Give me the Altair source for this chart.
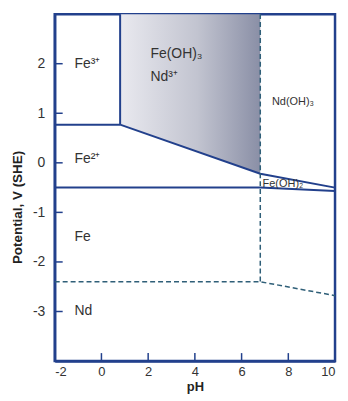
import altair as alt
import pandas as pd

# ---- data ----
# solid boundary lines (segment id, pH, potential)
solid_seg = ["a", "a", "b", "b", "c", "c", "c", "d", "d", "d"]
solid_ph = [-2, 0.8, 0.8, 0.8, 0.8, 6.8, 10, -2, 6.8, 10]
solid_v = [0.77, 0.77, 0.77, 3.0, 0.77, -0.22, -0.5, -0.5, -0.5, -0.57]

# dashed (Nd) boundary lines
dash_seg = ["e", "e", "f", "f", "f"]
dash_ph = [6.8, 6.8, -2, 6.8, 10]
dash_v = [3.0, -2.4, -2.4, -2.4, -2.68]

# shaded Fe(OH)3 + Nd3+ region
shade_ph = [0.8, 6.8]
shade_low = [0.77, -0.22]
shade_high = [3.0, 3.0]

# region labels
lab_text = ["Fe³⁺", "Fe(OH)₃", "Nd³⁺", "Fe²⁺", "Fe", "Nd"]
lab_ph = [-1.15, 2.1, 2.1, -1.15, -1.15, -1.15]
lab_v = [2.0, 2.2, 1.74, 0.08, -1.5, -3.0]
small_text = ["Nd(OH)₃", "Fe(OH)₂"]
small_ph = [7.3, 6.9]
small_v = [1.22, -0.42]

x_ticks = [-2, 0, 2, 4, 6, 8, 10]
y_ticks = [-3, -2, -1, 0, 1, 2]

NAVY = "#22408c"
W, H = 282, 349

xs = alt.Scale(domain=[-2, 10], nice=False, zero=False)
ys = alt.Scale(domain=[-4, 3], nice=False, zero=False)

solid = pd.DataFrame({"seg": solid_seg, "ph": solid_ph, "v": solid_v})
dash = pd.DataFrame({"seg": dash_seg, "ph": dash_ph, "v": dash_v})
shade = pd.DataFrame({"ph": shade_ph, "lo": shade_low, "hi": shade_high})
labs = pd.DataFrame({"t": lab_text, "ph": lab_ph, "v": lab_v})
smalls = pd.DataFrame({"t": small_text, "ph": small_ph, "v": small_v})
xt = pd.DataFrame({"x": x_ticks[1:-1]})
yt = pd.DataFrame({"y": y_ticks})

area = alt.Chart(shade).mark_area(
    color=alt.Gradient(
        gradient="linear", x1=0, x2=1, y1=0, y2=0,
        stops=[alt.GradientStop(color="#e9e9ef", offset=0),
               alt.GradientStop(color="#c2c4d0", offset=0.55),
               alt.GradientStop(color="#8a8fa6", offset=1)],
    )
).encode(
    x=alt.X("ph:Q", scale=xs,
            axis=alt.Axis(title="pH", values=x_ticks, ticks=False, grid=False,
                          labelExpr="'' + datum.value",
                          domainColor=NAVY, domainWidth=2.5, labelFontSize=13,
                          labelColor="#333", labelPadding=5, labelFont="Liberation Sans",
                          titleFont="Liberation Sans", titleFontSize=13, titleColor="#222",
                          titlePadding=2)),
    y=alt.Y("lo:Q", scale=ys,
            axis=alt.Axis(title="Potential, V (SHE)", values=y_ticks, ticks=False, grid=False,
                          labelExpr="'' + datum.value",
                          domainColor=NAVY, domainWidth=2.5, labelFontSize=14,
                          labelColor="#333", labelPadding=10, labelFont="Liberation Sans",
                          titleFont="Liberation Sans", titleFontSize=13.5, titleColor="#222",
                          titlePadding=8, titleY=194)),
    y2="hi:Q",
)

solid_lines = alt.Chart(solid).mark_line(color=NAVY, strokeWidth=2).encode(
    x=alt.X("ph:Q", scale=xs), y=alt.Y("v:Q", scale=ys), detail="seg:N", order=alt.Order("ph:Q")
)
dash_lines = alt.Chart(dash).mark_line(color="#2f5f78", strokeWidth=1.5, strokeDash=[5, 3]).encode(
    x=alt.X("ph:Q", scale=xs), y=alt.Y("v:Q", scale=ys), detail="seg:N"
)

labels = alt.Chart(labs).mark_text(align="left", baseline="middle", fontSize=14,
                                  font="Liberation Sans", color="#333").encode(
    x=alt.X("ph:Q", scale=xs), y=alt.Y("v:Q", scale=ys), text="t:N"
)
small = alt.Chart(smalls).mark_text(align="left", baseline="middle", fontSize=11,
                                   font="Liberation Sans", color="#333").encode(
    x=alt.X("ph:Q", scale=xs), y=alt.Y("v:Q", scale=ys), text="t:N"
)

xtick = alt.Chart(xt).mark_rule(color=NAVY, strokeWidth=1.5).encode(
    x=alt.X("x:Q", scale=xs), y=alt.value(H - 8), y2=alt.value(H)
)
ytick = alt.Chart(yt).mark_rule(color=NAVY, strokeWidth=1.5).encode(
    y=alt.Y("y:Q", scale=ys), x=alt.value(0), x2=alt.value(8)
)

chart = alt.layer(area, solid_lines, dash_lines, labels, small, xtick, ytick).properties(
    width=W, height=H,
    autosize=alt.AutoSizeParams(type="none"),
    padding={"left": 47, "top": 5, "right": 5, "bottom": 40},
).configure_view(stroke=NAVY, strokeWidth=2.5)

chart.save("out.html", embed_options={"renderer": "svg", "actions": False})
